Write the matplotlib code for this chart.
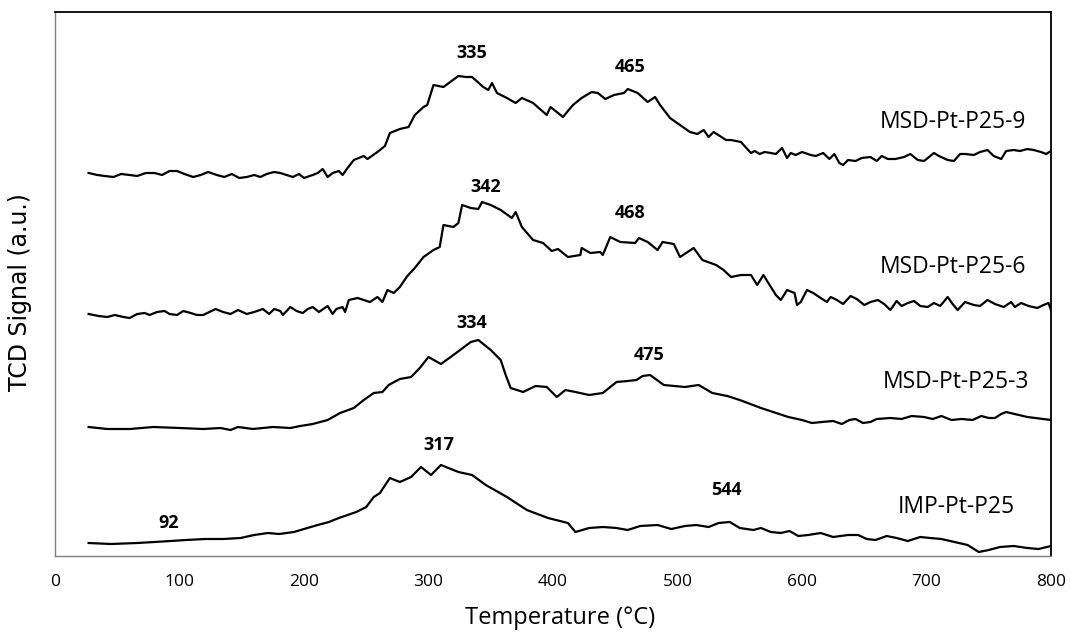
import matplotlib
matplotlib.use("Agg")
import matplotlib.pyplot as plt

# ---------------- data (TCD signal, arbitrary units) ----------------
t_p25_9 = [27, 34, 40, 47, 53, 60, 66, 73, 80, 86,
           92, 98, 104, 111, 117, 123, 130, 136, 142, 148,
           154, 160, 165, 170, 176, 181, 186, 191, 196, 200,
           207, 211, 215, 219, 223, 228, 231, 235, 240, 248,
           251, 259, 265, 269, 277, 284, 289, 296, 299, 304,
           312, 324, 330, 335, 344, 348, 351, 355, 363, 370,
           375, 384, 395, 398, 408, 416, 423, 431, 436, 442,
           449, 457, 460, 468, 476, 482, 486, 494, 502, 510,
           516, 521, 525, 529, 539, 543, 551, 556, 559, 562,
           566, 570, 575, 579, 584, 588, 591, 595, 600, 607,
           611, 617, 622, 626, 630, 633, 637, 643, 648, 655,
           660, 664, 669, 675, 682, 687, 693, 698, 706, 710,
           717, 722, 727, 731, 738, 743, 749, 754, 760, 764,
           770, 775, 781, 786, 792, 796, 800]
s_p25_9 = [382, 380, 379, 378, 381, 380, 379, 382, 382, 380,
           384, 384, 381, 378, 380, 383, 380, 378, 381, 377,
           378, 380, 378, 381, 383, 382, 380, 378, 381, 377,
           380, 382, 386, 378, 382, 384, 380, 387, 395, 399,
           396, 403, 409, 422, 426, 428, 440, 448, 450, 470,
           468, 479, 478, 478, 468, 465, 472, 462, 457, 452,
           457, 452, 440, 448, 438, 450, 457, 463, 462, 456,
           460, 462, 466, 462, 453, 458, 450, 437, 430, 423,
           421, 425, 418, 423, 415, 415, 413, 406, 402, 404,
           401, 403, 402, 401, 407, 397, 402, 400, 403, 400,
           399, 402, 396, 401, 392, 390, 395, 394, 397, 398,
           394, 399, 396, 396, 398, 401, 395, 394, 402, 399,
           395, 394, 401, 401, 400, 403, 405, 399, 396, 404,
           405, 404, 406, 405, 403, 401, 404]

t_p25_6 = [27, 35, 42, 48, 55, 60, 66, 72, 76, 82,
           88, 92, 98, 103, 109, 114, 119, 124, 129, 135,
           141, 147, 154, 160, 167, 172, 176, 181, 183, 189,
           194, 199, 203, 207, 212, 219, 223, 226, 231, 233,
           236, 243, 253, 259, 263, 267, 272, 277, 283, 289,
           296, 304, 309, 312, 320, 324, 327, 334, 340, 343,
           350, 358, 367, 370, 375, 384, 392, 399, 404, 412,
           422, 423, 430, 438, 440, 446, 454, 466, 469, 476,
           484, 488, 497, 502, 513, 520, 531, 537, 543, 551,
           559, 564, 569, 579, 583, 588, 594, 596, 599, 604,
           609, 615, 620, 623, 628, 633, 639, 644, 650, 655,
           661, 666, 671, 676, 680, 685, 690, 695, 701, 706,
           711, 717, 721, 725, 731, 738, 743, 749, 755, 762,
           768, 771, 776, 782, 789, 794, 798, 800]
s_p25_6 = [241, 239, 238, 240, 238, 237, 241, 242, 240, 243,
           244, 241, 240, 244, 242, 240, 240, 243, 246, 243,
           241, 245, 241, 243, 246, 241, 246, 244, 240, 248,
           244, 242, 246, 248, 243, 249, 241, 246, 248, 243,
           255, 257, 253, 258, 253, 265, 262, 268, 279, 287,
           298, 305, 308, 330, 328, 332, 350, 347, 346, 353,
           350, 345, 337, 343, 328, 315, 312, 304, 306, 298,
           300, 307, 302, 303, 300, 318, 313, 312, 317, 313,
           305, 313, 311, 298, 307, 295, 290, 285, 278, 280,
           280, 270, 280, 260, 255, 265, 262, 250, 253, 265,
           262, 257, 253, 258, 255, 251, 259, 256, 250, 253,
           255, 251, 245, 254, 249, 252, 254, 249, 248, 252,
           249, 258, 251, 245, 253, 250, 249, 255, 251, 248,
           253, 248, 252, 249, 247, 250, 252, 245]

t_p25_3 = [27, 42, 60, 79, 100, 119, 133, 141, 147, 159,
           175, 189, 197, 207, 219, 229, 240, 248, 256, 263,
           268, 277, 286, 293, 300, 310, 320, 334, 340, 350,
           358, 362, 366, 376, 386, 395, 403, 410, 418, 429,
           440, 451, 460, 467, 472, 478, 489, 506, 517, 528,
           540, 550, 567, 589, 600, 608, 616, 625, 632, 638,
           643, 649, 655, 660, 671, 680, 688, 698, 705, 712,
           720, 728, 737, 744, 750, 755, 760, 764, 781, 800]
s_p25_3 = [128, 126, 126, 128, 127, 126, 127, 125, 128, 126,
           128, 127, 129, 131, 135, 142, 147, 155, 162, 163,
           170, 176, 178, 187, 198, 191, 200, 213, 215, 205,
           195, 180, 167, 163, 169, 168, 158, 165, 163, 160,
           162, 173, 174, 175, 179, 180, 170, 168, 170, 162,
           159, 155, 147, 138, 135, 132, 133, 134, 131, 135,
           136, 132, 133, 136, 137, 136, 139, 138, 136, 139,
           135, 136, 135, 139, 137, 137, 141, 143, 138, 135]

t_imp = [27, 45, 66, 80, 93, 105, 121, 135, 149, 160,
         171, 180, 192, 200, 211, 220, 228, 235, 242, 250,
         256, 261, 269, 277, 286, 294, 302, 310, 324, 335,
         346, 363, 379, 396, 412, 418, 429, 440, 451, 460,
         470, 484, 495, 506, 515, 525, 533, 542, 550, 561,
         567, 575, 583, 590, 597, 605, 615, 625, 637, 645,
         652, 659, 668, 676, 685, 695, 703, 712, 726, 733,
         742, 750, 759, 770, 781, 790, 800]
s_imp = [12, 11, 12, 13, 14, 15, 16, 16, 17, 20,
         22, 21, 23, 26, 30, 33, 37, 40, 43, 48,
         58, 62, 77, 73, 78, 88, 80, 90, 83, 80,
         70, 58, 45, 37, 32, 23, 27, 28, 27, 25,
         29, 30, 26, 29, 30, 28, 32, 33, 27, 25,
         27, 23, 22, 24, 19, 20, 22, 18, 20, 20,
         16, 15, 19, 17, 14, 18, 17, 16, 12, 10,
         3, 5, 8, 9, 7, 6, 9]

series_names = ["MSD-Pt-P25-9", "MSD-Pt-P25-6", "MSD-Pt-P25-3", "IMP-Pt-P25"]
series_label_t = [721, 721, 724, 724]
series_label_s = [433, 288, 173, 48]

peak_labels = ["335", "465", "342", "468", "334", "475", "317", "544", "92"]
peak_label_t = [335, 462, 346, 462, 335, 477, 308, 539, 91]
peak_label_s = [502, 488, 368, 342, 232, 200, 110, 65, 32]

x_ticks = [0, 100, 200, 300, 400, 500, 600, 700, 800]

# ---------------- figure ----------------
fig = plt.figure(figsize=(10.7, 6.37), dpi=100)
ax = fig.add_axes([55 / 1070, 1 - 556 / 637, (1051 - 55) / 1070, (556 - 12) / 637])

for t, s in [(t_p25_9, s_p25_9), (t_p25_6, s_p25_6), (t_p25_3, s_p25_3), (t_imp, s_imp)]:
    ax.plot(t, s, color="black", lw=1.6, solid_joinstyle="round")

for name, tx, sy in zip(series_names, series_label_t, series_label_s):
    ax.text(tx, sy, name, ha="center", va="center", fontsize=16.5,
            family="Open Sans", color="black")

for lab, tx, sy in zip(peak_labels, peak_label_t, peak_label_s):
    ax.text(tx, sy, lab, ha="center", va="center", fontsize=13,
            family="Open Sans", fontweight="bold", color="black")

ax.set_xlim(0, 800)
ax.set_ylim(-1, 543)
ax.set_xticks(x_ticks)
ax.set_xticklabels([str(v) for v in x_ticks], family="Open Sans", fontsize=12.5)
ax.set_yticks([])
ax.tick_params(axis="x", length=0, pad=13)

for side in ["top", "right"]:
    ax.spines[side].set_color("black")
    ax.spines[side].set_linewidth(1.3)
for side in ["left", "bottom"]:
    ax.spines[side].set_color("#7f7f7f")
    ax.spines[side].set_linewidth(1.0)

fig.text(560 / 1070, 1 - 618 / 637, "Temperature (°C)", ha="center", va="center",
         fontsize=17, family="Open Sans")
fig.text(20 / 1070, 1 - 292 / 637, "TCD Signal (a.u.)", ha="center", va="center",
         rotation=90, fontsize=17, family="DejaVu Sans")

fig.savefig("out.png", dpi=100)
